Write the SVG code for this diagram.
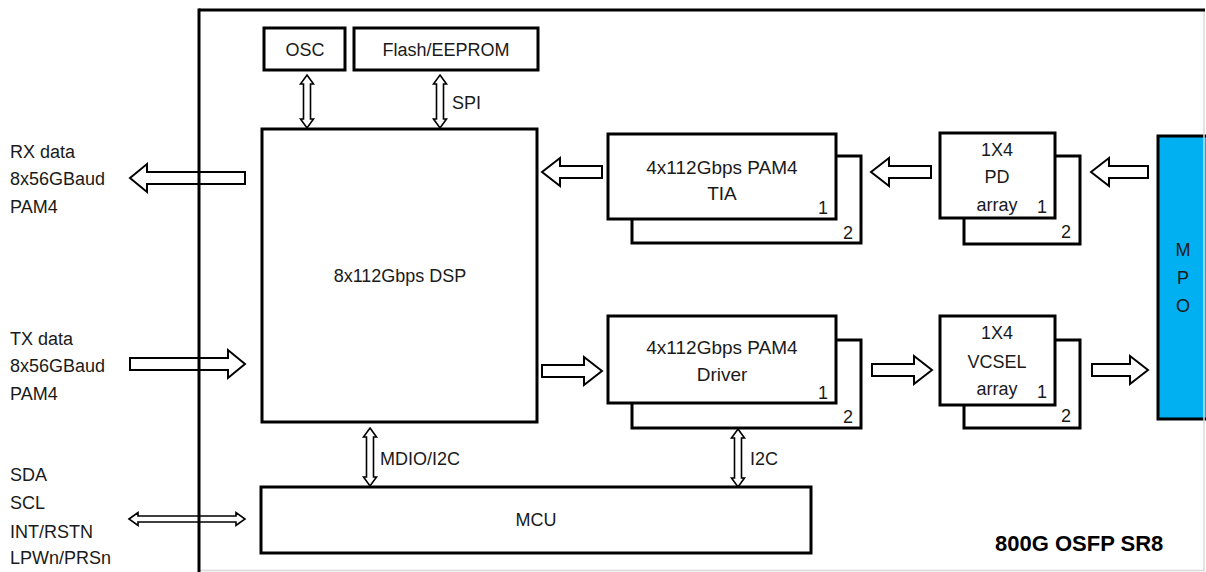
<svg xmlns="http://www.w3.org/2000/svg" width="1206" height="572" viewBox="0 0 1206 572">
<style>
  .box { fill: #ffffff; stroke: #000000; stroke-width: 3; }
  .mpo { fill: #00B0F0; stroke: #000000; stroke-width: 3; }
  .arr { fill: #ffffff; stroke: #000000; stroke-width: 2; stroke-linejoin: miter; }
  .sarr { fill: #ffffff; stroke: #000000; stroke-width: 1.6; stroke-linejoin: miter; }
  text { font-family: "Liberation Sans", Arial, sans-serif; font-size: 18px; fill: #1a1a1a; }
  .c { text-anchor: middle; }
  .big { font-size: 19px; }
  .title { font-weight: bold; font-size: 22px; fill: #000000; }
</style>
<rect x="0" y="0" width="1206" height="572" fill="#ffffff"/>

<g id="connectors">
  <polygon class="arr" points="130,178 147,164 147,172 245,172 245,184 147,184 147,192"/>
  <polygon class="arr" points="245,364 228,350 228,358 130,358 130,370 228,370 228,378"/>
  <polygon class="arr" points="542,172 560,158 560,166 602,166 602,178 560,178 560,186"/>
  <polygon class="arr" points="871,172 889,158 889,166 931,166 931,178 889,178 889,186"/>
  <polygon class="arr" points="1091,172 1109,158 1109,166 1148,166 1148,178 1109,178 1109,186"/>
  <polygon class="arr" points="602,371 584,357 584,365 542,365 542,377 584,377 584,385"/>
  <polygon class="arr" points="932,370 914,356 914,364 872,364 872,376 914,376 914,384"/>
  <polygon class="arr" points="1148,370 1130,356 1130,364 1092,364 1092,376 1130,376 1130,384"/>
  <polygon class="sarr" points="307,75 313.5,84 310.5,84 310.5,119 313.5,119 307,128 300.5,119 303.5,119 303.5,84 300.5,84"/>
  <polygon class="sarr" points="440,75 446.5,84 443.5,84 443.5,119 446.5,119 440,128 433.5,119 436.5,119 436.5,84 433.5,84"/>
  <polygon class="sarr" points="370,428 376.5,437 373.5,437 373.5,477 376.5,477 370,486 363.5,477 366.5,477 366.5,437 363.5,437"/>
  <polygon class="sarr" points="738,429 744.5,438 741.5,438 741.5,478 744.5,478 738,487 731.5,478 734.5,478 734.5,438 731.5,438"/>
  <polygon class="sarr" points="129,519 138,512.5 138,516 236,516 236,512.5 245,519 236,525.5 236,522 138,522 138,525.5"/>
  <text x="452" y="109">SPI</text>
  <text x="380" y="465">MDIO/I2C</text>
  <text x="750" y="465">I2C</text>
</g>

<g id="labels-left">
  <text x="10" y="158">RX data</text>
  <text x="10" y="185">8x56GBaud</text>
  <text x="10" y="213">PAM4</text>
  <text x="10" y="345">TX data</text>
  <text x="10" y="372">8x56GBaud</text>
  <text x="10" y="400">PAM4</text>
  <text x="10" y="481">SDA</text>
  <text x="10" y="509">SCL</text>
  <text x="10" y="538">INT/RSTN</text>
  <text x="10" y="564">LPWn/PRSn</text>
</g>

<g id="osc">
  <rect class="box" x="264" y="28" width="81" height="42"/>
  <text class="c" x="305" y="56">OSC</text>
</g>
<g id="flash">
  <rect class="box" x="354" y="28" width="184" height="42"/>
  <text class="c" x="446" y="56">Flash/EEPROM</text>
</g>
<g id="dsp">
  <rect class="box" x="262" y="129" width="275" height="293"/>
  <text class="c" x="400" y="282">8x112Gbps DSP</text>
</g>
<g id="mcu">
  <rect class="box" x="261" y="487" width="550" height="66"/>
  <text class="c" x="536" y="526">MCU</text>
</g>
<g id="tia">
  <rect class="box" x="632" y="156" width="229" height="87"/>
  <rect class="box" x="608" y="134" width="228" height="85"/>
  <text class="c big" x="722" y="174">4x112Gbps PAM4</text>
  <text class="c big" x="722" y="200">TIA</text>
  <text class="c" x="823" y="214">1</text>
  <text class="c" x="848" y="239">2</text>
</g>
<g id="driver">
  <rect class="box" x="632" y="340" width="229" height="88"/>
  <rect class="box" x="608" y="316" width="228" height="87"/>
  <text class="c big" x="722" y="354">4x112Gbps PAM4</text>
  <text class="c big" x="722" y="381">Driver</text>
  <text class="c" x="823" y="399">1</text>
  <text class="c" x="848" y="423">2</text>
</g>
<g id="pd">
  <rect class="box" x="964" y="156" width="116" height="88"/>
  <rect class="box" x="940" y="133" width="115" height="85"/>
  <text class="c" x="997" y="156">1X4</text>
  <text class="c" x="997" y="183">PD</text>
  <text class="c" x="997" y="211">array</text>
  <text class="c" x="1042" y="213">1</text>
  <text class="c" x="1066" y="238">2</text>
</g>
<g id="vcsel">
  <rect class="box" x="964" y="340" width="116" height="88"/>
  <rect class="box" x="940" y="316" width="115" height="89"/>
  <text class="c" x="997" y="339">1X4</text>
  <text class="c" x="997" y="368">VCSEL</text>
  <text class="c" x="997" y="395">array</text>
  <text class="c" x="1042" y="398">1</text>
  <text class="c" x="1066" y="422">2</text>
</g>
<g id="mpo">
  <rect class="mpo" x="1158" y="136" width="52" height="283"/>
  <text class="c" x="1183" y="256">M</text>
  <text class="c" x="1183" y="284">P</text>
  <text class="c" x="1183" y="312">O</text>
</g>

<g id="frame">
  <line x1="1204" y1="10" x2="1204" y2="571" stroke="#d9d9d9" stroke-width="1.5"/>
  <line x1="199" y1="570.5" x2="1205" y2="570.5" stroke="#d9d9d9" stroke-width="1.5"/>
  <line x1="199" y1="10" x2="1205" y2="10" stroke="#000000" stroke-width="3"/>
  <line x1="199" y1="8.5" x2="199" y2="572" stroke="#000000" stroke-width="3"/>
  <text class="title" x="995" y="551">800G OSFP SR8</text>
</g>
</svg>
